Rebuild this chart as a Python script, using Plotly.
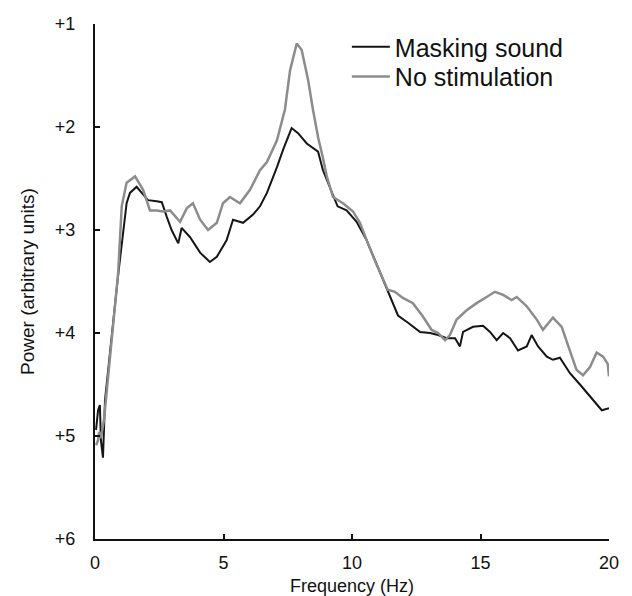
import plotly.graph_objects as go

# Frequency (Hz) and power values
mask_freq = [0.04, 0.12, 0.19, 0.23, 0.31, 0.39, 0.89, 1.09, 1.23, 1.36, 1.62, 1.82, 2.06, 2.40, 2.60,
             2.79, 2.98, 3.24, 3.37, 3.70, 4.09, 4.47, 4.74, 5.12, 5.37, 5.76, 6.15, 6.42, 6.69, 7.08,
             7.32, 7.65, 7.90, 8.24, 8.68, 8.87, 9.14, 9.44, 9.79, 10.18, 10.57, 11.05, 11.48, 11.79,
             12.18, 12.65, 13.04, 13.35, 13.68, 14.01, 14.20, 14.32, 14.71, 15.10, 15.37, 15.63, 15.88,
             16.15, 16.46, 16.80, 16.99, 17.24, 17.58, 17.82, 18.09, 18.48, 18.87, 19.26, 19.72, 20.0]
mask_power = [4.94, 4.75, 4.70, 5.04, 5.21, 4.65, 3.46, 3.07, 2.74, 2.64, 2.58, 2.64, 2.71, 2.72, 2.73,
              2.87, 3.00, 3.13, 2.98, 3.07, 3.22, 3.31, 3.26, 3.10, 2.90, 2.93, 2.85, 2.77, 2.64, 2.39,
              2.22, 2.01, 2.06, 2.16, 2.24, 2.42, 2.58, 2.77, 2.81, 2.92, 3.10, 3.39, 3.65, 3.83,
              3.90, 3.99, 4.00, 4.02, 4.05, 4.05, 4.13, 3.99, 3.94, 3.93, 3.99, 4.07, 4.00,
              4.05, 4.17, 4.13, 4.02, 4.13, 4.23, 4.26, 4.24, 4.39, 4.50, 4.62, 4.75, 4.73]

nostim_freq = [0.04, 0.12, 0.16, 0.23, 0.35, 0.90, 1.04, 1.23, 1.56, 1.87, 2.14, 2.40, 2.65, 2.92,
               3.31, 3.57, 3.81, 4.09, 4.40, 4.74, 4.98, 5.25, 5.64, 6.03, 6.42, 6.69, 7.08, 7.39, 7.59,
               7.85, 8.04, 8.29, 8.48, 8.68, 8.86, 9.02, 9.26, 9.65, 10.04, 10.31, 10.62, 10.93, 11.39,
               11.67, 11.98, 12.37, 12.76, 13.10, 13.35, 13.62, 13.81, 14.07, 14.46, 14.85, 15.24, 15.56,
               15.88, 16.21, 16.41, 16.80, 17.19, 17.43, 17.82, 18.16, 18.42, 18.74, 18.99, 19.26, 19.52,
               19.77, 19.95, 20.0]
nostim_power = [5.09, 5.04, 4.96, 5.02, 4.84, 3.42, 2.77, 2.54, 2.48, 2.61, 2.81, 2.81, 2.82, 2.81,
                2.92, 2.79, 2.74, 2.90, 3.00, 2.93, 2.74, 2.68, 2.74, 2.61, 2.42, 2.34, 2.13, 1.83, 1.45,
                1.19, 1.25, 1.54, 1.83, 2.10, 2.29, 2.48, 2.68, 2.74, 2.82, 2.93, 3.13, 3.32, 3.58,
                3.60, 3.66, 3.71, 3.84, 3.97, 4.00, 4.07, 4.02, 3.87, 3.78, 3.71, 3.65, 3.60,
                3.63, 3.68, 3.65, 3.74, 3.87, 3.97, 3.85, 3.94, 4.13, 4.36, 4.41, 4.33, 4.19,
                4.23, 4.30, 4.42]

y_ticks = [1, 2, 3, 4, 5, 6]
y_tick_labels = ["+1", "+2", "+3", "+4", "+5", "+6"]
x_ticks = [0, 5, 10, 15, 20]

FONT = "Liberation Sans, Arial, sans-serif"

fig = go.Figure()
fig.add_trace(go.Scatter(x=mask_freq, y=mask_power, mode="lines", name="Masking sound",
                         line=dict(color="#151515", width=2), legend="legend"))
fig.add_trace(go.Scatter(x=nostim_freq, y=nostim_power, mode="lines", name="No stimulation",
                         line=dict(color="#8c8c8c", width=2.5), legend="legend2"))

legend_common = dict(xanchor="left", yanchor="top", itemwidth=38,
                     font=dict(size=25, family=FONT, color="#111111"),
                     bgcolor="rgba(0,0,0,0)", borderwidth=0)

fig.update_layout(
    width=632, height=596,
    margin=dict(l=95, r=23, t=24, b=57),
    paper_bgcolor="white", plot_bgcolor="white",
    font=dict(family=FONT, color="#111111", size=18),
    showlegend=True,
    legend=dict(x=0.490, y=1.0, **legend_common),
    legend2=dict(x=0.490, y=0.942, **legend_common),
    xaxis=dict(range=[0, 20], tickvals=x_ticks, showgrid=False, zeroline=False,
               showline=True, linecolor="#111111", linewidth=2, automargin=False,
               ticks="inside", ticklen=5, tickwidth=2, tickcolor="#111111",
               ticklabelstandoff=6, tickfont=dict(size=18),
               title=dict(text="Frequency (Hz)", font=dict(size=18), standoff=8)),
    yaxis=dict(range=[6, 1], tickvals=y_ticks, ticktext=y_tick_labels, showgrid=False,
               zeroline=False, showline=True, linecolor="#111111", linewidth=2, automargin=False,
               ticks="inside", ticklen=5, tickwidth=2, tickcolor="#111111",
               ticklabelstandoff=14, tickfont=dict(size=18),
               title=dict(text="Power (arbitrary units)", font=dict(size=19), standoff=15)),
)

fig.write_html("out.html")
